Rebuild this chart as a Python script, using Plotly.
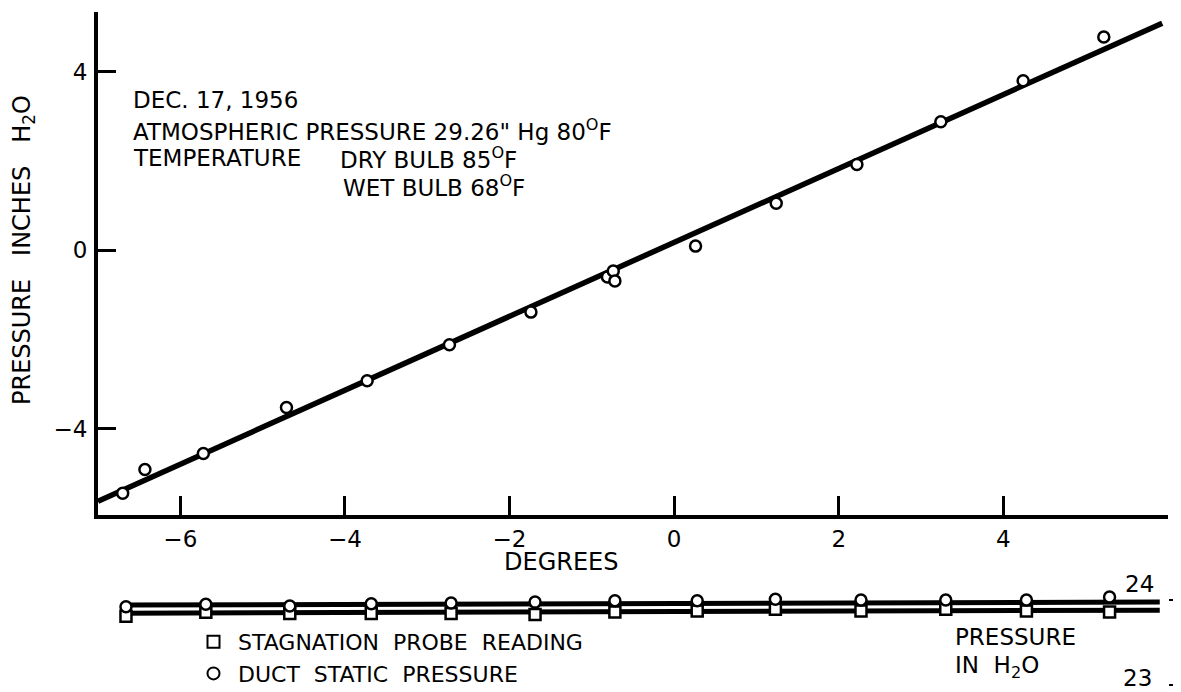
import plotly.graph_objects as go

# ---------------- data ----------------
# main panel: duct readings (degrees vs pressure inches H2O)
deg_points = [-6.70, -6.43, -5.72, -4.71, -3.73, -2.73, -1.74, -0.81, -0.74, -0.72,
              0.26, 1.24, 2.22, 3.24, 4.24, 5.22]
press_points = [-5.45, -4.92, -4.56, -3.53, -2.93, -2.12, -1.39, -0.60, -0.47, -0.69,
                0.09, 1.05, 1.92, 2.88, 3.80, 4.78]
# faired straight line
fit_deg = [-7.0, 5.93]
fit_press = [-5.63, 5.09]

x_ticks = [-6, -4, -2, 0, 2, 4]
y_ticks = [-4, 0, 4]

# lower strip: absolute pressure readings (in H2O)
strip_deg = [-6.66, -5.69, -4.67, -3.68, -2.71, -1.69, -0.72, 0.28, 1.23, 2.27, 3.30, 4.28, 5.29]
duct_static = [23.92, 23.95, 23.93, 23.955, 23.965, 23.975, 23.99, 23.99, 24.01, 24.0, 24.0, 24.0, 24.035]
stagnation = [23.81, 23.855, 23.84, 23.84, 23.84, 23.83, 23.86, 23.87, 23.89, 23.87, 23.89, 23.87, 23.86]
band_deg = [-6.72, 5.90]
band_upper = [23.94, 23.976]
band_lower = [23.845, 23.88]
strip_ticks = [23, 24]

# ---------------- layout helpers (page pixel coords) ----------------
OFF = 8                      # browser body margin
PAGE_W, PAGE_H = 1181, 692
W, H = PAGE_W - OFF, PAGE_H - OFF
PLOT_L, PLOT_R, PLOT_T, PLOT_B = 98, 1168, 12, 690   # page pixels
ML = PLOT_L - OFF
MT = PLOT_T - OFF
MR = PAGE_W - PLOT_R
MB = PAGE_H - PLOT_B
PW = PLOT_R - PLOT_L
PH = PLOT_B - PLOT_T


def px(x):
    return (x - PLOT_L) / PW


def py(y):
    return (PLOT_B - y) / PH


FONT = "DejaVu Sans"
fig = go.Figure()

# main panel
fig.add_trace(go.Scatter(x=fit_deg, y=fit_press, mode="lines",
                         line=dict(color="black", width=5.5), showlegend=False,
                         xaxis="x", yaxis="y"))
fig.add_trace(go.Scatter(x=deg_points, y=press_points, mode="markers",
                         marker=dict(symbol="circle", size=11, color="white",
                                     line=dict(color="black", width=2.5)),
                         showlegend=False, xaxis="x", yaxis="y"))

# strip bands
fig.add_trace(go.Scatter(x=band_deg, y=band_upper, mode="lines",
                         line=dict(color="black", width=5), showlegend=False,
                         xaxis="x2", yaxis="y2"))
fig.add_trace(go.Scatter(x=band_deg, y=band_lower, mode="lines",
                         line=dict(color="black", width=5), showlegend=False,
                         xaxis="x2", yaxis="y2"))
fig.add_trace(go.Scatter(x=strip_deg, y=stagnation, mode="markers",
                         name="STAGNATION\u00a0\u00a0PROBE\u00a0\u00a0READING",
                         marker=dict(symbol="square", size=11, color="white",
                                     line=dict(color="black", width=2.5)),
                         xaxis="x2", yaxis="y2"))
fig.add_trace(go.Scatter(x=strip_deg, y=duct_static, mode="markers",
                         name="DUCT\u00a0\u00a0STATIC\u00a0\u00a0PRESSURE",
                         marker=dict(symbol="circle", size=11, color="white",
                                     line=dict(color="black", width=2.5)),
                         xaxis="x2", yaxis="y2"))

main_bottom = py(515)
strip_top = py(570)
# strip scale: 24 at page pixel 600, 23 at page pixel 685
s_per = 85.0
y2_top = 24 + (600 - 570) / s_per
y2_bot = 23 - (PLOT_B - 685) / s_per

tickfont = dict(family=FONT, size=23, color="black")

fig.update_layout(
    width=W, height=H,
    margin=dict(l=ML, r=MR, t=MT, b=MB, autoexpand=False),
    paper_bgcolor="white", plot_bgcolor="white",
    font=dict(family=FONT, size=23, color="black"),
    xaxis=dict(domain=[0, 1], range=[-7, 6], tickvals=x_ticks, ticks="inside",
               ticklen=19, tickwidth=2.5, tickcolor="black", showline=True,
               linewidth=4, linecolor="black", showgrid=False, zeroline=False,
               tickfont=tickfont, anchor="y", ticklabelstandoff=0),
    yaxis=dict(domain=[main_bottom, 1], range=[-5.94, 5.34], tickvals=y_ticks,
               ticks="inside", ticklen=18, tickwidth=2.5, tickcolor="black",
               showline=True, linewidth=4, linecolor="black", showgrid=False,
               zeroline=False, tickfont=tickfont, anchor="x", ticklabelstandoff=2),
    xaxis2=dict(domain=[0, 1], range=[-7, 6], visible=False, anchor="y2"),
    yaxis2=dict(domain=[0, strip_top], range=[y2_bot, y2_top], tickvals=strip_ticks,
                side="right", anchor="x2", ticks="outside", ticklen=10, tickwidth=2,
                tickcolor="black", showline=False, showgrid=False, zeroline=False,
                showticklabels=False),
    legend=dict(x=px(189), y=py(621), xanchor="left", yanchor="top",
                xref="paper", yref="paper", font=dict(family=FONT, size=22, color="black"),
                bgcolor="rgba(0,0,0,0)", tracegroupgap=0, itemsizing="constant",
                itemwidth=39),
    showlegend=True,
)

ann = []


def add_text(text, x, y, size=23, xanchor="left", angle=0):
    ann.append(dict(text=text, x=px(x), y=py(y), xref="paper", yref="paper",
                    xanchor=xanchor, yanchor="middle", showarrow=False,
                    textangle=angle, font=dict(family=FONT, size=size, color="black")))


nb = "\u00a0"
add_text("PRESSURE" + nb * 3 + "INCHES" + nb * 3 + "H<sub>2</sub>O", 24, 250, size=24,
         xanchor="center", angle=-90)
add_text("DEGREES", 561, 562, size=24, xanchor="center")
add_text("DEC. 17, 1956", 131, 100)
add_text("ATMOSPHERIC PRESSURE 29.26\" Hg 80<sup>O</sup>F", 131, 130)
add_text("TEMPERATURE", 131, 158)
add_text("DRY BULB 85<sup>O</sup>F", 338, 158)
add_text("WET BULB 68<sup>O</sup>F", 341, 186)
add_text("PRESSURE", 953, 637)
add_text("IN" + nb + nb + "H<sub>2</sub>O", 953, 667)
add_text("24", 1139, 584, xanchor="center")
add_text("23", 1137, 678, xanchor="center")

fig.update_layout(annotations=ann)

fig.write_html("out.html")
